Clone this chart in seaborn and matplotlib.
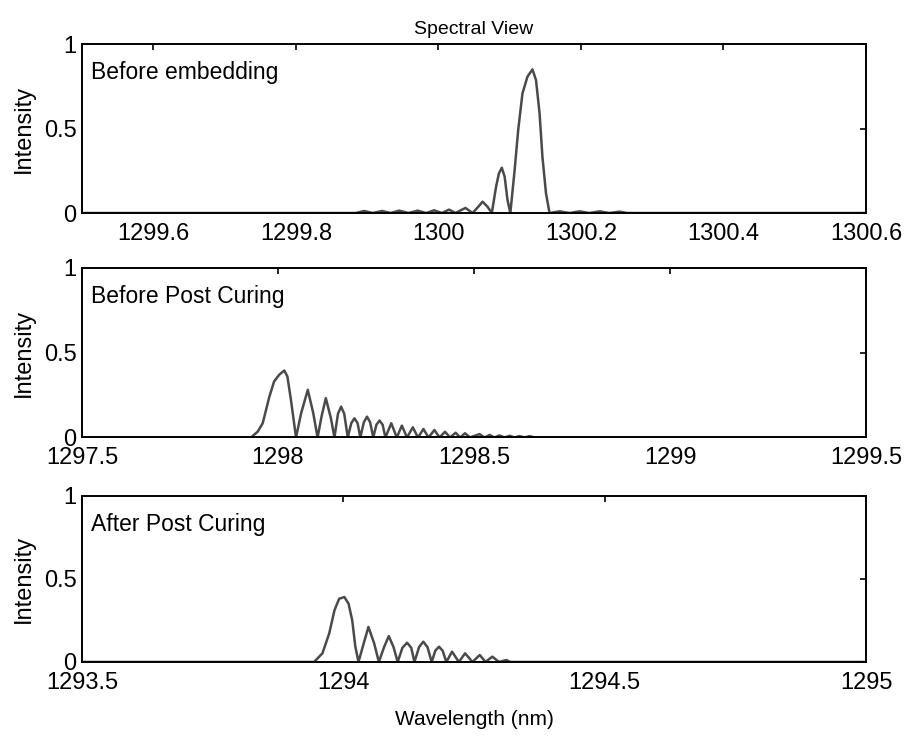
import pandas as pd
import seaborn as sns
import matplotlib.pyplot as plt

# spectrum 1: before embedding
wl_embed = [1299.5, 1299.884, 1299.896, 1299.908, 1299.921, 1299.933, 1299.945, 1299.958, 1299.971, 1299.983,
            1299.994, 1300.005, 1300.015, 1300.024, 1300.038, 1300.048, 1300.056, 1300.062, 1300.069, 1300.075,
            1300.081, 1300.085, 1300.089, 1300.093, 1300.097, 1300.101, 1300.107, 1300.112, 1300.118, 1300.125,
            1300.132, 1300.137, 1300.142, 1300.146, 1300.151, 1300.156, 1300.170, 1300.184, 1300.198, 1300.212,
            1300.226, 1300.240, 1300.254, 1300.265, 1300.6]
int_embed = [0, 0, 0.012, 0, 0.012, 0, 0.014, 0, 0.014, 0,
             0.016, 0, 0.02, 0, 0.03, 0, 0.037, 0.067, 0.037, 0,
             0.156, 0.235, 0.268, 0.215, 0.077, 0, 0.254, 0.491, 0.708, 0.807,
             0.85, 0.787, 0.59, 0.333, 0.117, 0, 0.01, 0, 0.01, 0,
             0.01, 0, 0.008, 0, 0]

# spectrum 2: before post curing
wl_pre = [1297.5, 1297.931, 1297.948, 1297.961, 1297.978, 1297.990, 1298.003, 1298.016, 1298.024, 1298.033,
          1298.046, 1298.059, 1298.076, 1298.090, 1298.101, 1298.111, 1298.122, 1298.135, 1298.144, 1298.153,
          1298.161, 1298.169, 1298.178, 1298.187, 1298.195, 1298.203, 1298.210, 1298.219, 1298.227, 1298.235,
          1298.243, 1298.251, 1298.259, 1298.267, 1298.274, 1298.289, 1298.303, 1298.316, 1298.329, 1298.344,
          1298.357, 1298.371, 1298.384, 1298.399, 1298.412, 1298.426, 1298.439, 1298.453, 1298.465, 1298.477,
          1298.490, 1298.514, 1298.527, 1298.540, 1298.552, 1298.565, 1298.578, 1298.591, 1298.603, 1298.616,
          1298.629, 1298.642, 1298.655, 1299.5]
int_pre = [0, 0, 0.034, 0.084, 0.241, 0.330, 0.370, 0.395, 0.360, 0.222,
           0, 0.143, 0.281, 0.143, 0, 0.123, 0.232, 0.113, 0, 0.14,
           0.182, 0.14, 0, 0.085, 0.113, 0.085, 0, 0.09, 0.123, 0.09,
           0, 0.075, 0.10, 0.075, 0, 0.084, 0, 0.07, 0, 0.06,
           0, 0.05, 0, 0.044, 0, 0.034, 0, 0.028, 0, 0.025,
           0, 0.02, 0, 0.015, 0, 0.012, 0, 0.01, 0, 0.008,
           0, 0.008, 0, 0]

# spectrum 3: after post curing
wl_post = [1293.5, 1293.944, 1293.960, 1293.973, 1293.983, 1293.992, 1294.002, 1294.010, 1294.017, 1294.023,
           1294.029, 1294.039, 1294.048, 1294.059, 1294.068, 1294.078, 1294.087, 1294.096, 1294.104, 1294.113,
           1294.122, 1294.130, 1294.136, 1294.145, 1294.153, 1294.161, 1294.169, 1294.176, 1294.183, 1294.190,
           1294.197, 1294.208, 1294.221, 1294.233, 1294.247, 1294.261, 1294.272, 1294.285, 1294.298, 1294.312,
           1294.319, 1295.0]
int_post = [0, 0, 0.052, 0.172, 0.311, 0.381, 0.391, 0.351, 0.251, 0.092,
            0, 0.112, 0.211, 0.112, 0, 0.09, 0.156, 0.09, 0, 0.085,
            0.116, 0.085, 0, 0.09, 0.122, 0.09, 0, 0.068, 0.092, 0.068,
            0, 0.062, 0, 0.052, 0, 0.042, 0, 0.032, 0, 0.012,
            0, 0]

panel_titles = ['Before embedding', 'Before Post Curing', 'After Post Curing']
xticks_embed = [1299.6, 1299.8, 1300.0, 1300.2, 1300.4, 1300.6]
xlabels_embed = ['1299.6', '1299.8', '1300', '1300.2', '1300.4', '1300.6']
xticks_pre = [1297.5, 1298.0, 1298.5, 1299.0, 1299.5]
xlabels_pre = ['1297.5', '1298', '1298.5', '1299', '1299.5']
xticks_post = [1293.5, 1294.0, 1294.5, 1295.0]
xlabels_post = ['1293.5', '1294', '1294.5', '1295']
yticks = [0, 0.5, 1]
ylabels = ['0', '0.5', '1']

sns.set_style('white')
plt.rcParams['font.family'] = ['Liberation Sans', 'DejaVu Sans']
plt.rcParams['text.color'] = 'black'
plt.rcParams['axes.labelcolor'] = 'black'

fig = plt.figure(figsize = (9.09, 7.49), dpi = 100)
positions = [[0.0902, 0.7156, 0.8625, 0.2256],
             [0.0902, 0.4159, 0.8625, 0.2263],
             [0.0902, 0.1162, 0.8625, 0.2216]]

spectra = [(wl_embed, int_embed, xticks_embed, xlabels_embed),
           (wl_pre, int_pre, xticks_pre, xlabels_pre),
           (wl_post, int_post, xticks_post, xlabels_post)]

for i, (wl, inten, xt, xl) in enumerate(spectra):
    ax = fig.add_axes(positions[i])
    df = pd.DataFrame({'Wavelength': wl, 'Intensity': inten})
    sns.lineplot(x = 'Wavelength', y = 'Intensity', data = df, color = '#4a4a4a',
                 linewidth = 1.8, ax = ax)
    ax.set_xlim(wl[0], wl[-1])
    ax.set_ylim(0, 1)
    ax.set_xticks(xt)
    ax.set_xticklabels(xl, fontsize = 17)
    ax.set_yticks(yticks)
    ax.set_yticklabels(ylabels, fontsize = 17)
    ax.tick_params(direction = 'in', top = True, right = True, length = 4.5, width = 1.2,
                   colors = 'black')
    ax.tick_params(axis = 'x', pad = 7)
    ax.tick_params(axis = 'y', pad = 4)
    for s in ax.spines.values():
        s.set_linewidth(1.4)
        s.set_color('black')
    ax.set_ylabel('Intensity', fontsize = 17, labelpad = 6)
    ax.set_xlabel('')
    ax.text(0.011, 0.9, panel_titles[i], transform = ax.transAxes, fontsize = 16.5,
            va = 'top', ha = 'left')
    if i == 0:
        ax.set_title('Spectral View', fontsize = 14, pad = 7)
    if i == 2:
        ax.set_xlabel('Wavelength (nm)', fontsize = 15, labelpad = 12)

plt.savefig('out.png', dpi = 100)
